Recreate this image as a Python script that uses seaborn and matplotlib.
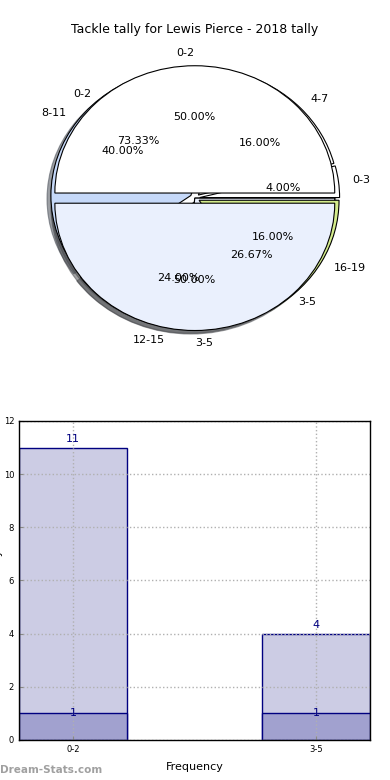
import numpy as np
import pandas as pd
import matplotlib
matplotlib.use('Agg')
import matplotlib.pyplot as plt
import seaborn as sns

# data
cats = ['0-2', '3-5']
low_counts = [1, 1]        # inner pie + dark bars
high_counts = [11, 4]      # middle pie + light bars
range_labels = ['0-3', '4-7', '8-11', '12-15', '16-19']
range_counts = [1, 4, 10, 6, 4]

fig = plt.figure(figsize=(3.9, 7.8), dpi=100)

# pie part - three pies stacked on one axes
ax1 = fig.add_axes([0.051, 0.542, 0.897, 0.408])
wp = dict(edgecolor='black', linewidth=0.8)

ax1.pie(high_counts, labels=cats, autopct='%.2f%%', startangle=0,
        shadow=True, wedgeprops=wp, colors=['white', '#eaf0fd'],
        textprops=dict(fontsize=8))
ax1.pie(range_counts, labels=range_labels, autopct='%.2f%%', startangle=0,
        explode=[0.035] * 5, shadow=True, wedgeprops=wp,
        colors=['white', 'white', '#c6d9f9', '#eaf0fd', '#d4ec8c'],
        textprops=dict(fontsize=8))
ax1.pie(low_counts, labels=cats, autopct='%.2f%%', startangle=0,
        explode=[0.04, 0.04], shadow=True, wedgeprops=wp,
        colors=['white', '#eaf0fd'], textprops=dict(fontsize=8))
ax1.set_aspect('auto')
ax1.set_xlim(-1.25, 1.25)
ax1.set_ylim(-1.25, 1.25)
ax1.axis('off')

fig.text(0.5, 0.962, 'Tackle tally for Lewis Pierce - 2018 tally',
         ha='center', va='center', fontsize=9)

# bar part
ax2 = fig.add_axes([0.0487, 0.0513, 0.9, 0.409])
w = 0.444
sns.barplot(x=cats, y=high_counts, color='#ccccE4', saturation=1, width=w,
            edgecolor='#000080', linewidth=1, ax=ax2)
sns.barplot(x=cats, y=low_counts, color='#a1a1cf', saturation=1, width=w,
            edgecolor='#000080', linewidth=1, ax=ax2)

for i, v in enumerate(high_counts):
    ax2.text(i, v + 0.12, str(v), ha='center', va='bottom', color='#000080', fontsize=8)
for i, v in enumerate(low_counts):
    ax2.text(i, v, str(v), ha='center', va='center', color='#000080', fontsize=8)

ax2.set_xlim(-w / 2, 1 + w / 2)
ax2.set_ylim(0, 12)
ax2.set_yticks(range(0, 13, 2))
ax2.grid(True, linestyle=':', color='#b0b0b0', linewidth=1)
ax2.set_axisbelow(False)
ax2.tick_params(direction='in', labelsize=6, length=3, labelcolor='black', color='#888888')
ax2.set_xlabel('Frequency', fontsize=8, labelpad=6)
ax2.set_ylabel('')
for s in ax2.spines.values():
    s.set_linewidth(1)
    s.set_zorder(5)

fig.text(-0.006, 0.255, 'Tackle Tally', rotation=90, ha='center', va='center', fontsize=8)
fig.text(0.0, 0.013, 'Dream-Stats.com', ha='left', va='center', fontsize=7.5,
         color='#a0a0a0', fontweight='bold')

fig.savefig('out.png', dpi=100)
